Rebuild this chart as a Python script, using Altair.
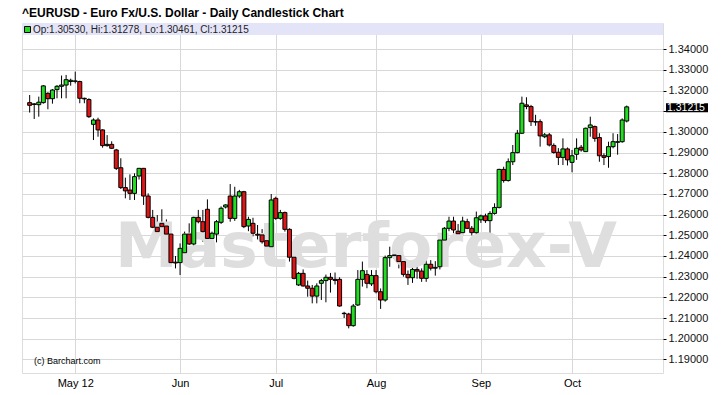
import altair as alt
import pandas as pd

# ---- data -------------------------------------------------------------
dates = [d.strftime("%Y-%m-%d") for d in pd.bdate_range("2012-04-17", "2012-10-17")]

opens = [1.3142, 1.3133, 1.3132, 1.3142, 1.3187, 1.3161, 1.3205, 1.3221, 1.3227, 1.3244,
         1.3245, 1.3244, 1.3163, 1.3157, 1.3037, 1.3058, 1.3010, 1.2934, 1.2940, 1.2913,
         1.2827, 1.2731, 1.2719, 1.2703, 1.2787, 1.2824, 1.2690, 1.2587, 1.2539, 1.2558,
         1.2545, 1.2506, 1.2370, 1.2368, 1.2416, 1.2506, 1.2458, 1.2587, 1.2566, 1.2626,
         1.2485, 1.2506, 1.2563, 1.2637, 1.2690, 1.2582, 1.2690, 1.2711, 1.2545, 1.2558,
         1.2505, 1.2502, 1.2474, 1.2445, 1.2679, 1.2582, 1.2610, 1.2529, 1.2394, 1.2260,
         1.2316, 1.2255, 1.2244, 1.2206, 1.2268, 1.2281, 1.2297, 1.2287, 1.2287, 1.2123,
         1.2119, 1.2063, 1.2163, 1.2287, 1.2311, 1.2265, 1.2305, 1.2227, 1.2187, 1.2392,
         1.2402, 1.2402, 1.2373, 1.2311, 1.2295, 1.2335, 1.2327, 1.2292, 1.2360, 1.2341,
         1.2348, 1.2477, 1.2534, 1.2569, 1.2520, 1.2513, 1.2566, 1.2534, 1.2513, 1.2575,
         1.2594, 1.2571, 1.2606, 1.2635, 1.2819, 1.2765, 1.2856, 1.2900, 1.2994, 1.3131,
         1.3123, 1.3050, 1.3050, 1.2977, 1.2986, 1.2935, 1.2902, 1.2877, 1.2918, 1.2853,
         1.2892, 1.2926, 1.2905, 1.3021, 1.3026, 1.2973, 1.2885, 1.2881, 1.2929, 1.2950,
         1.2953, 1.30530]

highs = [1.3179, 1.3140, 1.3171, 1.3227, 1.3192, 1.3208, 1.3227, 1.3273, 1.3276, 1.3258,
         1.3292, 1.3248, 1.3166, 1.3163, 1.3066, 1.3069, 1.3013, 1.2985, 1.2955, 1.2918,
         1.2873, 1.2779, 1.2795, 1.2800, 1.2826, 1.2826, 1.2703, 1.2623, 1.2598, 1.2626,
         1.2577, 1.2510, 1.2400, 1.2461, 1.2518, 1.2558, 1.2590, 1.2623, 1.2623, 1.2674,
         1.2518, 1.2574, 1.2640, 1.2650, 1.2748, 1.2735, 1.2720, 1.2715, 1.2590, 1.2585,
         1.2550, 1.2530, 1.2485, 1.2700, 1.2687, 1.2623, 1.2615, 1.2534, 1.2405, 1.2323,
         1.2335, 1.2281, 1.2260, 1.2268, 1.2289, 1.2310, 1.2318, 1.2320, 1.2297, 1.2130,
         1.2125, 1.2168, 1.2332, 1.2373, 1.2332, 1.2332, 1.2332, 1.2243, 1.2402, 1.2445,
         1.2445, 1.2410, 1.2380, 1.2330, 1.2345, 1.2350, 1.2340, 1.2380, 1.2380, 1.2375,
         1.2488, 1.2540, 1.2590, 1.2590, 1.2555, 1.2590, 1.2580, 1.2545, 1.2615, 1.2600,
         1.2605, 1.2617, 1.2655, 1.2822, 1.2832, 1.2872, 1.2937, 1.3010, 1.3171, 1.3168,
         1.3131, 1.3083, 1.3061, 1.2995, 1.2995, 1.2945, 1.2922, 1.2969, 1.2925, 1.2913,
         1.2969, 1.2937, 1.3021, 1.3074, 1.3031, 1.2994, 1.2897, 1.2953, 1.2994, 1.2990,
         1.3066, 1.31278]

lows = [1.3094, 1.3063, 1.3074, 1.3137, 1.3110, 1.3137, 1.3163, 1.3163, 1.3163, 1.3224,
        1.3235, 1.3139, 1.3139, 1.3068, 1.2961, 1.2977, 1.2924, 1.2929, 1.2919, 1.2816,
        1.2724, 1.2679, 1.2671, 1.2671, 1.2770, 1.2647, 1.2582, 1.2535, 1.2513, 1.2506,
        1.2461, 1.2361, 1.2340, 1.2308, 1.2405, 1.2453, 1.2448, 1.2558, 1.2469, 1.2477,
        1.2444, 1.2466, 1.2555, 1.2630, 1.2566, 1.2570, 1.2680, 1.2535, 1.2520, 1.2495,
        1.2480, 1.2460, 1.2413, 1.2442, 1.2575, 1.2575, 1.2518, 1.2373, 1.2287, 1.2255,
        1.2252, 1.2203, 1.2171, 1.2171, 1.2187, 1.2176, 1.2223, 1.2262, 1.2155, 1.2100,
        1.2050, 1.2058, 1.2158, 1.2252, 1.2244, 1.2255, 1.2219, 1.2144, 1.2179, 1.2348,
        1.2385, 1.2340, 1.2300, 1.2260, 1.2270, 1.2290, 1.2275, 1.2275, 1.2330, 1.2305,
        1.2335, 1.2460, 1.2520, 1.2510, 1.2495, 1.2500, 1.2530, 1.2500, 1.2500, 1.2560,
        1.2560, 1.2506, 1.2600, 1.2630, 1.2755, 1.2760, 1.2840, 1.2897, 1.2990, 1.3110,
        1.3029, 1.3030, 1.2929, 1.2970, 1.2930, 1.2895, 1.2840, 1.2840, 1.2838, 1.2805,
        1.2865, 1.2905, 1.2903, 1.2977, 1.2953, 1.2856, 1.2840, 1.2827, 1.2921, 1.2890,
        1.2948, 1.30461]

closes = [1.3129, 1.3136, 1.3144, 1.3223, 1.3161, 1.3203, 1.3221, 1.3227, 1.3253, 1.3250,
          1.3247, 1.3163, 1.3160, 1.3074, 1.3058, 1.3010, 1.2934, 1.2940, 1.2921, 1.2824,
          1.2731, 1.2715, 1.2703, 1.2784, 1.2824, 1.2690, 1.2587, 1.2539, 1.2518, 1.2542,
          1.2506, 1.2368, 1.2366, 1.2437, 1.2506, 1.2458, 1.2587, 1.2566, 1.2518, 1.2485,
          1.2510, 1.2566, 1.2631, 1.2647, 1.2582, 1.2690, 1.2711, 1.2542, 1.2577, 1.2510,
          1.2501, 1.2469, 1.2448, 1.2671, 1.2582, 1.2610, 1.2529, 1.2394, 1.2292, 1.2316,
          1.2255, 1.2244, 1.2206, 1.2255, 1.2281, 1.2297, 1.2287, 1.2282, 1.2158, 1.2121,
          1.2063, 1.2158, 1.2287, 1.2329, 1.2268, 1.2306, 1.2227, 1.2187, 1.2392, 1.2402,
          1.2405, 1.2373, 1.2311, 1.2295, 1.2335, 1.2327, 1.2292, 1.2360, 1.2341, 1.2345,
          1.2477, 1.2534, 1.2569, 1.2526, 1.2508, 1.2569, 1.2534, 1.2513, 1.2585, 1.2594,
          1.2571, 1.2606, 1.2635, 1.2819, 1.2765, 1.2856, 1.2900, 1.2994, 1.3139, 1.3123,
          1.3050, 1.3048, 1.2981, 1.2986, 1.2937, 1.2901, 1.2877, 1.2918, 1.2865, 1.2885,
          1.2921, 1.2913, 1.3018, 1.3034, 1.2969, 1.2885, 1.2877, 1.2929, 1.2953, 1.2953,
          1.3058, 1.31215]

month_starts = ["2012-05-01", "2012-06-01", "2012-07-02", "2012-08-01", "2012-09-03", "2012-10-01"]
month_labels = ["May 12", "Jun", "Jul", "Aug", "Sep", "Oct"]
price_ticks = [1.19, 1.20, 1.21, 1.22, 1.23, 1.24, 1.25, 1.26, 1.27, 1.28,
               1.29, 1.30, 1.31, 1.32, 1.33, 1.34]

title_text = "^EURUSD - Euro Fx/U.S. Dollar - Daily Candlestick Chart"
watermark = "Masterforex-V"
copyright_text = "(c) Barchart.com"

# ---- build table -------------------------------------------------------
df = pd.DataFrame({
    "idx": list(range(len(dates))),
    "date": dates,
    "open": opens, "high": highs, "low": lows, "close": closes,
})
df["dir"] = ["up" if c >= o else "down" for o, c in zip(opens, closes)]

tick_idx = [dates.index(m) for m in month_starts]
label_expr = " : ".join(
    f"datum.value == {i} ? '{lab}'" for i, lab in zip(tick_idx, month_labels)
) + " : ''"

GREEN = "#22dd22"
RED = "#e01515"
FONT = "Liberation Sans"
W, H = 641, 350

xscale = alt.Scale(domain=[-0.583, 137.86], nice=False, zero=False)
yscale = alt.Scale(domain=[1.183396, 1.352724], nice=False, zero=False)

last = closes[-1]
legend_text = (f"Op:{opens[-1]:.5f}, Hi:{highs[-1]:.5f}, "
               f"Lo:{lows[-1]:.5f}, Cl:{closes[-1]:.5f}")

x_axis = alt.Axis(values=tick_idx, labelExpr=label_expr, grid=True,
                  gridColor="#d8d8d8", tickSize=0, domain=False,
                  labelPadding=4, labelFont=FONT, labelFontSize=11,
                  labelOverlap=False, labelColor="#000000", title=None)

y_axis = alt.Axis(orient="right", values=price_ticks, grid=True, gridColor="#d8d8d8",
                  labelExpr="abs(datum.value - 1.31) < 0.0001 ? '' : format(datum.value, '.5f')",
                  tickSize=3, tickColor="#000000", domain=False, labelPadding=2,
                  labelOverlap=False, labelFont=FONT, labelFontSize=11,
                  labelColor="#111111", title=None)

one = pd.DataFrame({"v": [last]})
base = alt.Chart(df)

wm = alt.Chart(one).mark_text(
    text=watermark, font="DejaVu Sans", fontWeight="bold", fontSize=63,
    color="#dedede", align="center", baseline="alphabetic"
).encode(x=alt.value(344), y=alt.value(244))

wicks = base.mark_rule(color="#000000", strokeWidth=1).encode(
    x=alt.X("idx:Q", scale=xscale, axis=x_axis),
    y=alt.Y("low:Q", scale=yscale, axis=y_axis),
    y2="high:Q",
)

bodies = base.mark_bar(size=4, stroke="#000000", strokeWidth=1).encode(
    x=alt.X("idx:Q", scale=xscale, axis=x_axis),
    y=alt.Y("open:Q", scale=yscale, axis=y_axis),
    y2="close:Q",
    color=alt.Color("dir:N", scale=alt.Scale(domain=["up", "down"], range=[GREEN, RED]),
                    legend=None),
)

band = alt.Chart(one).mark_rect(color="#e4e4f8").encode(
    x=alt.value(0), x2=alt.value(W), y=alt.value(0), y2=alt.value(12))

leg_sq = alt.Chart(one).mark_rect(color=GREEN, stroke="#000000", strokeWidth=1).encode(
    x=alt.value(2.5), x2=alt.value(8.5), y=alt.value(3.5), y2=alt.value(9.5))

leg_txt = alt.Chart(one).mark_text(
    text=legend_text, font=FONT, fontSize=10, color="#222222",
    align="left", baseline="middle").encode(x=alt.value(11), y=alt.value(6.5))

copy_txt = alt.Chart(one).mark_text(
    text=copyright_text, font=FONT, fontSize=9, color="#000000",
    align="left", baseline="alphabetic").encode(x=alt.value(12), y=alt.value(341))

price_box = alt.Chart(one).transform_calculate(
    lo="datum.v - 0.0026", hi="datum.v + 0.0018"
).mark_rect(color="#000000").encode(
    x=alt.value(644), x2=alt.value(686),
    y=alt.Y("lo:Q", scale=yscale, axis=y_axis), y2="hi:Q")

price_txt = alt.Chart(one).mark_text(
    font=FONT, fontSize=10.5, color="#ffffff", align="left", baseline="middle", dy=1
).encode(x=alt.value(645), y=alt.Y("v:Q", scale=yscale, axis=y_axis),
         text=alt.Text("v:Q", format=".5f"))

title_txt = alt.Chart(one).mark_text(
    text=title_text, font=FONT, fontSize=12, fontWeight="bold", color="#000000",
    align="left", baseline="alphabetic").encode(x=alt.value(0), y=alt.value(-6))

chart = alt.layer(
    wicks, wm, band, leg_sq, leg_txt, bodies, copy_txt, price_box, price_txt, title_txt
).properties(
    width=W, height=H,
    autosize=alt.AutoSizeParams(type="none"),
    padding={"left": 22, "top": 23, "right": 64, "bottom": 22},
).configure_view(
    stroke="#000000", strokeWidth=1
).configure_axis(
    labelOverlap=False
).configure(background="#ffffff")

chart.save("out.html", embed_options={"renderer": "svg", "actions": False})
